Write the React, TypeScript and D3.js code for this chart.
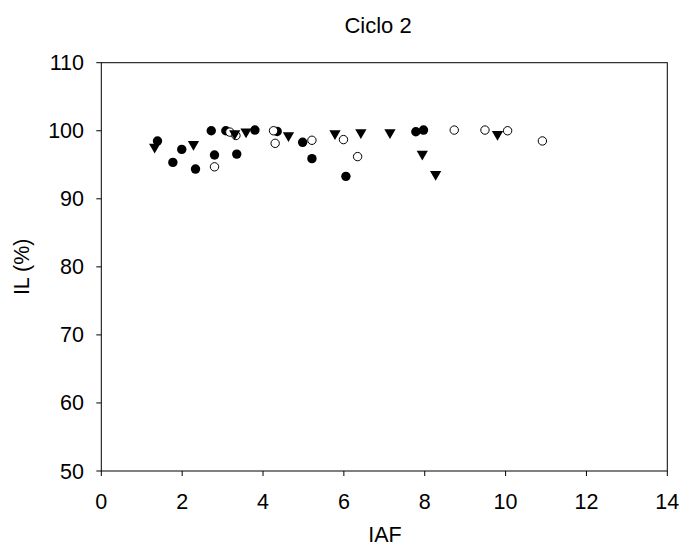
import React from "react";
import * as d3 from "d3";

const title = "Ciclo 2";
const xLabel = "IAF";
const yLabel = "IL (%)";
const xTicks = [0, 2, 4, 6, 8, 10, 12, 14];
const yTicks = [50, 60, 70, 80, 90, 100, 110];

const filledCircles: [number, number][] = [
  [1.39, 98.5], [1.77, 95.35], [1.99, 97.26], [2.33, 94.37], [2.72, 100.0],
  [2.8, 96.43], [3.08, 100.0], [3.35, 96.57], [3.8, 100.1], [4.35, 99.9],
  [4.98, 98.3], [5.21, 95.9], [6.05, 93.3], [7.78, 99.85], [7.97, 100.1],
];

const openCircles: [number, number][] = [
  [2.8, 94.7], [3.18, 99.8], [3.33, 99.3], [4.26, 100.0], [4.3, 98.15],
  [5.21, 98.6], [5.99, 98.7], [6.34, 96.2], [8.73, 100.1], [9.49, 100.1],
  [10.05, 100.0], [10.91, 98.5],
];

const triangles: [number, number][] = [
  [1.32, 97.6], [2.28, 98.0], [3.3, 99.6], [3.58, 99.85], [4.63, 99.3],
  [5.78, 99.6], [6.42, 99.75], [7.14, 99.75], [7.94, 96.6], [8.27, 93.6],
  [9.8, 99.5],
];

const W = 681;
const H = 548;
const left = 101.3;
const right = 667.3;
const top = 62.7;
const bottom = 471;
const font = "'Liberation Sans', Arial, sans-serif";
const fs = 21.5;

export default function App() {
  const x = d3.scaleLinear().domain([0, 14]).range([left, right]);
  const y = d3.scaleLinear().domain([50, 110]).range([bottom, top]);
  const tri = d3.symbol().type(d3.symbolTriangle).size(55)();

  return (
    <svg
      width={W}
      height={H}
      style={{ position: "absolute", left: 0, top: 0, background: "#fff" }}
      fontFamily={font}
    >
      <rect x={0} y={0} width={W} height={H} fill="#fff" />
      <text x={378} y={32.5} textAnchor="middle" fontSize={22} fill="#000">
        {title}
      </text>
      <rect
        x={left}
        y={top}
        width={right - left}
        height={bottom - top}
        fill="none"
        stroke="#000"
        strokeWidth={1}
      />
      {xTicks.map((t) => (
        <g key={"x" + t}>
          <line x1={x(t)} x2={x(t)} y1={bottom} y2={bottom + 5} stroke="#000" />
          <text x={x(t)} y={508.5} textAnchor="middle" fontSize={fs} fill="#000">
            {t}
          </text>
        </g>
      ))}
      {yTicks.map((t) => (
        <g key={"y" + t}>
          <line x1={left - 5} x2={left} y1={y(t)} y2={y(t)} stroke="#000" />
          <text x={84} y={y(t)} dy="0.35em" textAnchor="end" fontSize={fs} fill="#000">
            {t}
          </text>
        </g>
      ))}
      <text x={385} y={542} textAnchor="middle" fontSize={21.5} fill="#000">
        {xLabel}
      </text>
      <text
        transform={`translate(29,${(top + bottom) / 2}) rotate(-90)`}
        textAnchor="middle"
        fontSize={fs}
        fill="#000"
      >
        {yLabel}
      </text>
      {filledCircles.map((d, i) => (
        <circle key={"f" + i} cx={x(d[0])} cy={y(d[1])} r={4.7} fill="#000" />
      ))}
      {openCircles.map((d, i) => (
        <circle
          key={"o" + i}
          cx={x(d[0])}
          cy={y(d[1])}
          r={4.2}
          fill="#fff"
          stroke="#000"
          strokeWidth={1}
        />
      ))}
      {triangles.map((d, i) => (
        <path
          key={"t" + i}
          d={tri || ""}
          transform={`translate(${x(d[0])},${y(d[1])}) rotate(180)`}
          fill="#000"
        />
      ))}
    </svg>
  );
}
